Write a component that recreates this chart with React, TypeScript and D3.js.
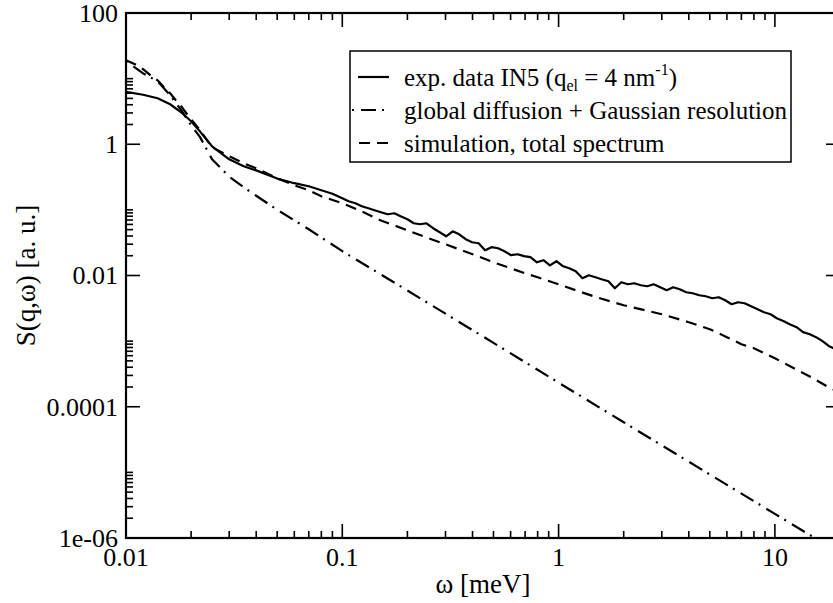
import React from "react";
import * as d3 from "d3";

const W = 833;
const H = 603;
const PLOT = { left: 126, top: 13, right: 840, bottom: 538 };

const xDomain = [0.01, 20];
const yDomain = [1e-6, 100];
const xMajor = [0.01, 0.1, 1, 10];
const xTickLabels = ["0.01", "0.1", "1", "10"];
const yMajor = [1e-6, 1e-4, 1e-2, 1, 100];
const yTickLabels = ["1e-06", "0.0001", "0.01", "1", "100"];

// experimental data IN5 (solid)
const expX = [
  0.01, 0.012, 0.014, 0.016, 0.018, 0.02, 0.022, 0.025, 0.03, 0.035, 0.04, 0.05, 0.06, 0.07, 0.08, 0.09,
  0.1, 0.107, 0.115, 0.123, 0.132, 0.141, 0.151, 0.162, 0.174, 0.186, 0.2, 0.214, 0.229, 0.245, 0.263,
  0.282, 0.302, 0.324, 0.347, 0.372, 0.398, 0.427, 0.457, 0.49, 0.525, 0.562, 0.603, 0.646, 0.692, 0.741,
  0.794, 0.851, 0.912, 0.977, 1.05, 1.12, 1.2, 1.29, 1.38, 1.48, 1.58, 1.7, 1.82, 1.95, 2.09, 2.24, 2.4,
  2.57, 2.75, 2.95, 3.16, 3.39, 3.63, 3.89, 4.17, 4.47, 4.79, 5.13, 5.5, 5.89, 6.31, 6.76, 7.24, 7.76,
  8.32, 8.91, 9.55, 10.2, 11, 11.7, 12.6, 13.5, 14.5, 15.5, 16.6, 17.8, 19.1, 20.4,
];
const expY = [
  6.27, 5.68, 5.02, 4.07, 3.07, 2.24, 1.56, 0.93, 0.59, 0.462, 0.4, 0.3, 0.255, 0.229, 0.199, 0.176,
  0.1504, 0.1353, 0.1262, 0.1136, 0.1059, 0.0987, 0.092, 0.0858, 0.0888, 0.08, 0.072, 0.0625, 0.0604,
  0.0625, 0.0525, 0.0456, 0.0396, 0.0472, 0.0425, 0.0357, 0.0321, 0.031, 0.0243, 0.027, 0.026, 0.0234,
  0.0204, 0.0211, 0.0197, 0.019, 0.0159, 0.0171, 0.0143, 0.0165, 0.0138, 0.0129, 0.0116, 0.00908,
  0.0101, 0.00941, 0.00877, 0.00818, 0.0064, 0.0079, 0.00736, 0.00762, 0.0071, 0.00686, 0.00736,
  0.00662, 0.00596, 0.00662, 0.00617, 0.00556, 0.00537, 0.005, 0.00483, 0.0045, 0.00466, 0.0042,
  0.00365, 0.00391, 0.00378, 0.0034, 0.00306, 0.00276, 0.00257, 0.00223, 0.00201, 0.00181, 0.00163,
  0.00137, 0.00127, 0.00115, 0.001, 0.000836, 0.000752, 0.000654,
];

// global diffusion + Gaussian resolution (dash-dot)
const diffX = [0.01, 0.012, 0.014, 0.016, 0.018, 0.02, 0.022, 0.025, 0.03, 0.035, 0.04, 0.05, 0.07, 0.1, 0.2, 0.5, 1, 2, 5, 10, 15, 20];
const diffY = [18.5, 12.0, 9.12, 5.58, 3.3, 1.95, 1.28, 0.591, 0.32, 0.221, 0.164, 0.1005, 0.0507, 0.0235, 0.0059, 9.4e-4, 2.33e-4, 5.8e-5, 9.3e-6, 2.33e-6, 1.04e-6, 5.8e-7];

// simulation, total spectrum (dashed)
const simX = [0.01, 0.011, 0.012, 0.013, 0.014, 0.015, 0.016, 0.017, 0.018, 0.019, 0.02, 0.022, 0.025, 0.03, 0.035, 0.04, 0.05, 0.06, 0.07, 0.08, 0.1, 0.12, 0.15, 0.2, 0.25, 0.3, 0.4, 0.5, 0.6, 0.7, 0.8, 1, 1.2, 1.5, 2, 2.5, 3, 4, 5, 6, 7, 8, 10, 12, 15, 18, 20];
const simY = [19.1, 16.6, 13.9, 11.2, 9.44, 7.38, 5.98, 4.68, 3.79, 2.97, 2.4, 1.63, 0.9, 0.656, 0.513, 0.431, 0.303, 0.237, 0.199, 0.161, 0.126, 0.0987, 0.0695, 0.0489, 0.037, 0.0299, 0.0211, 0.0159, 0.0129, 0.0108, 0.0094, 0.00736, 0.00596, 0.00466, 0.00352, 0.00296, 0.00257, 0.00194, 0.00152, 0.00115, 0.000897, 0.00078, 0.000549, 0.0004, 0.000272, 0.000192, 0.000166];

const FONT = '"Liberation Serif", "Times New Roman", Times, serif';
const DASHDOT = "2,7,15,6";
const DASHED = "11,7";

const T = (size: number) => ({ fontFamily: FONT, fontSize: size + "px" });

export default function App() {
  const x = d3.scaleLog().domain(xDomain).range([PLOT.left, PLOT.right]);
  const y = d3.scaleLog().domain(yDomain).range([PLOT.bottom, PLOT.top]);
  const line = d3
    .line<[number, number]>()
    .x((d) => x(d[0]))
    .y((d) => y(d[1]));

  const zip = (a: number[], b: number[]) => a.map((v, i) => [v, b[i]] as [number, number]);

  const xMinor: number[] = [];
  xMajor.forEach((d) => {
    for (let k = 2; k <= 9; k++) {
      const v = d * k;
      if (v <= xDomain[1]) xMinor.push(v);
    }
  });
  const yMinor: number[] = [];
  yMajor.slice(0, -1).forEach((m) => {
    for (let k = 2; k <= 10; k++) yMinor.push(m * k);
  });

  const tickW = 1.6;
  const majorLen = 14;
  const minorLen = 7;

  return (
    <svg
      width={W}
      height={H}
      style={{ position: "absolute", left: 0, top: 0, display: "block", background: "#fff", fontFamily: FONT }}
    >
      <defs>
        <clipPath id="plotclip">
          <rect x={PLOT.left} y={PLOT.top} width={PLOT.right - PLOT.left} height={PLOT.bottom - PLOT.top} />
        </clipPath>
      </defs>
      <rect x={0} y={0} width={W} height={H} fill="#fff" />

      {/* data */}
      <g clipPath="url(#plotclip)" fill="none" stroke="#000" strokeWidth={2.2}>
        <path d={line(zip(diffX, diffY)) || ""} strokeDasharray={DASHDOT} />
        <path d={line(zip(simX, simY)) || ""} strokeDasharray={DASHED} />
        <path d={line(zip(expX, expY)) || ""} strokeLinejoin="round" />
      </g>

      {/* ticks */}
      <g stroke="#000" strokeWidth={tickW}>
        {xMajor.map((v, i) => (
          <g key={"xm" + i}>
            <line x1={x(v)} x2={x(v)} y1={PLOT.bottom} y2={PLOT.bottom - majorLen} />
            <line x1={x(v)} x2={x(v)} y1={PLOT.top} y2={PLOT.top + majorLen} />
          </g>
        ))}
        {xMinor.map((v, i) => (
          <g key={"xn" + i}>
            <line x1={x(v)} x2={x(v)} y1={PLOT.bottom} y2={PLOT.bottom - minorLen} />
            <line x1={x(v)} x2={x(v)} y1={PLOT.top} y2={PLOT.top + minorLen} />
          </g>
        ))}
        {yMajor.map((v, i) => (
          <g key={"ym" + i}>
            <line x1={PLOT.left} x2={PLOT.left + majorLen} y1={y(v)} y2={y(v)} />
            <line x1={PLOT.right} x2={PLOT.right - majorLen} y1={y(v)} y2={y(v)} />
          </g>
        ))}
        {yMinor.map((v, i) => (
          <g key={"yn" + i}>
            <line x1={PLOT.left} x2={PLOT.left + minorLen} y1={y(v)} y2={y(v)} />
            <line x1={PLOT.right} x2={PLOT.right - minorLen} y1={y(v)} y2={y(v)} />
          </g>
        ))}
      </g>

      {/* frame */}
      <rect
        x={PLOT.left}
        y={PLOT.top}
        width={PLOT.right - PLOT.left}
        height={PLOT.bottom - PLOT.top}
        fill="none"
        stroke="#000"
        strokeWidth={2.2}
      />

      {/* tick labels */}
      <g fill="#000">
        {xMajor.map((v, i) => (
          <text key={"xl" + i} x={x(v)} y={566} textAnchor="middle" style={T(26)}>
            {xTickLabels[i]}
          </text>
        ))}
        {yMajor.map((v, i) => (
          <text key={"yl" + i} x={PLOT.left - 8} y={y(v)} dy="0.34em" textAnchor="end" style={T(26)}>
            {yTickLabels[i]}
          </text>
        ))}
      </g>

      {/* axis labels */}
      <text x={(PLOT.left + PLOT.right) / 2} y={593} textAnchor="middle" style={T(27)}>
        ω [meV]
      </text>
      <text
        transform={`translate(35, ${(PLOT.top + PLOT.bottom) / 2}) rotate(-90)`}
        textAnchor="middle"
        style={T(27)}
      >
        S(q,ω) [a. u.]
      </text>

      {/* legend */}
      <g>
        <rect x={350} y={51} width={441} height={111} fill="#fff" stroke="#000" strokeWidth={1.5} />
        <line x1={358} x2={389} y1={77} y2={77} stroke="#000" strokeWidth={2.2} />
        <line x1={352} x2={390} y1={110} y2={110} stroke="#000" strokeWidth={2.2} strokeDasharray={DASHDOT} />
        <line x1={359} x2={389} y1={143} y2={143} stroke="#000" strokeWidth={2.2} strokeDasharray={DASHED} />
        <g fill="#000">
          <text x={404} y={86} style={T(25)}>
            exp. data IN5 (q
            <tspan dy={5} style={{ fontSize: "16px" }}>el</tspan>
            <tspan dy={-5}> = 4 nm</tspan>
            <tspan dy={-11} style={{ fontSize: "16px" }}>-1</tspan>
            <tspan dy={11}>)</tspan>
          </text>
          <text x={404} y={119} style={T(25)}>global diffusion + Gaussian resolution</text>
          <text x={404} y={152} style={T(25)}>simulation, total spectrum</text>
        </g>
      </g>
    </svg>
  );
}
